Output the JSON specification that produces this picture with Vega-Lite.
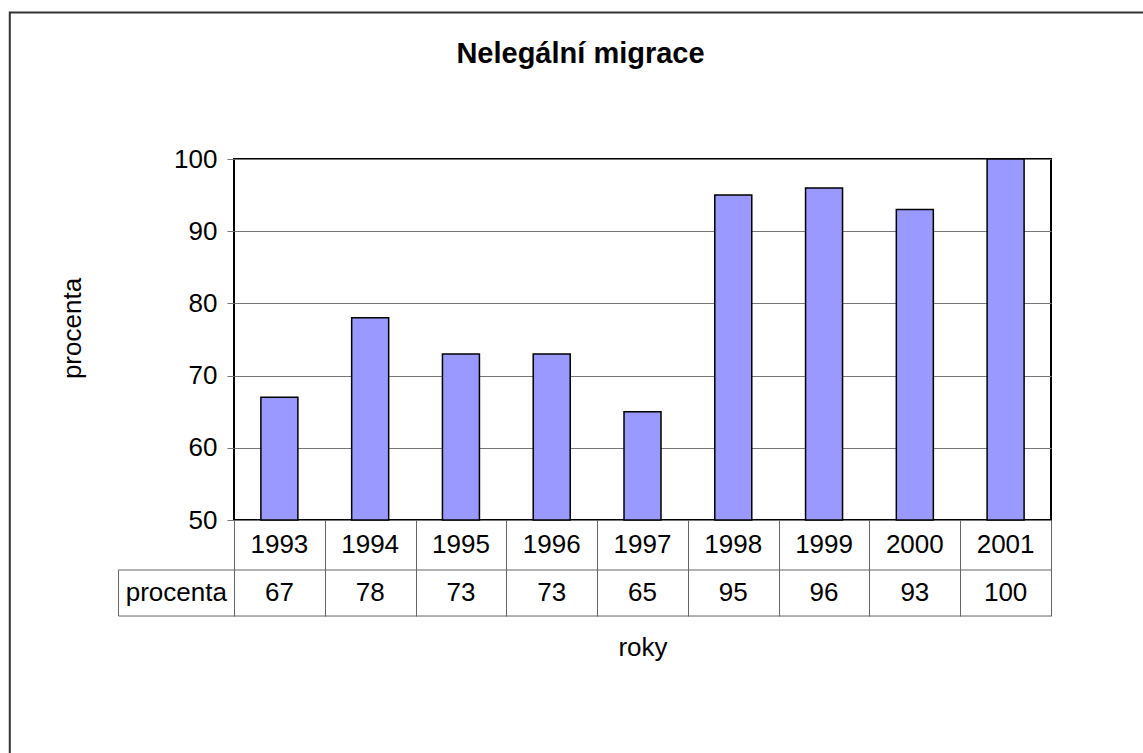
{
  "$schema": "https://vega.github.io/schema/vega-lite/v6.json",
  "width": 817,
  "height": 361,
  "autosize": {"type": "none"},
  "padding": {"left": 234, "top": 159, "right": 92, "bottom": 233},
  "background": "white",
  "config": {
    "font": "Liberation Sans",
    "view": {"stroke": "black", "strokeWidth": 2}
  },
  "title": {
    "text": "Nelegální migrace",
    "fontSize": 29,
    "fontWeight": "bold",
    "color": "black",
    "anchor": "middle",
    "frame": "group",
    "baseline": "alphabetic",
    "offset": -80,
    "dx": -62
  },
  "data": {
    "values": [
      {"year": 1993, "value": 67},
      {"year": 1994, "value": 78},
      {"year": 1995, "value": 73},
      {"year": 1996, "value": 73},
      {"year": 1997, "value": 65},
      {"year": 1998, "value": 95},
      {"year": 1999, "value": 96},
      {"year": 2000, "value": 93},
      {"year": 2001, "value": 100}
    ]
  },
  "layer": [
    {
      "mark": {"type": "bar", "width": 37, "fill": "#9999FF", "stroke": "black", "strokeWidth": 1.5},
      "encoding": {
        "x": {
          "field": "year",
          "type": "quantitative",
          "scale": {"domain": [1992.5, 2001.5], "nice": false, "zero": false, "padding": 0},
          "axis": {
            "values": [1992.5, 1993.5, 1994.5, 1995.5, 1996.5, 1997.5, 1998.5, 1999.5, 2000.5, 2001.5],
            "labels": false,
            "ticks": true,
            "tickSize": 96,
            "tickColor": "#666666",
            "tickWidth": 1,
            "domain": false,
            "grid": false,
            "title": "roky",
            "titleFontSize": 26,
            "titleFontWeight": "normal",
            "titleColor": "black",
            "titlePadding": 18
          }
        },
        "y": {
          "field": "value",
          "type": "quantitative",
          "scale": {"domain": [50, 100], "nice": false, "zero": false, "padding": 0},
          "axis": {
            "values": [50, 60, 70, 80, 90, 100],
            "grid": true,
            "gridColor": "#777777",
            "gridWidth": 1,
            "gridOpacity": 1,
            "tickSize": 7,
            "tickColor": "#777777",
            "labelFontSize": 26,
            "labelColor": "black",
            "labelPadding": 10,
            "domain": false,
            "title": "procenta",
            "titleFontSize": 26,
            "titleFontWeight": "normal",
            "titleColor": "black",
            "titleAngle": -90,
            "titleAlign": "center",
            "titleBaseline": "alphabetic",
            "titleX": -154,
            "titleY": 169
          }
        },
        "y2": {"datum": 50}
      }
    },
    {
      "data": {"values": [{}]},
      "mark": {"type": "rect", "fillOpacity": 0, "stroke": "#333333", "strokeWidth": 2},
      "encoding": {
        "x": {"datum": 1990.03, "type": "quantitative"},
        "x2": {"datum": 2006},
        "y": {"datum": 120.29, "type": "quantitative"},
        "y2": {"datum": 0}
      }
    },
    {
      "mark": {"type": "text", "fontSize": 26, "baseline": "middle", "align": "center", "color": "black"},
      "encoding": {
        "x": {"field": "year", "type": "quantitative"},
        "y": {"datum": 46.54, "type": "quantitative"},
        "text": {"field": "year", "type": "nominal"}
      }
    },
    {
      "mark": {"type": "text", "fontSize": 26, "baseline": "middle", "align": "center", "color": "black"},
      "encoding": {
        "x": {"field": "year", "type": "quantitative"},
        "y": {"datum": 39.89, "type": "quantitative"},
        "text": {"field": "value", "type": "quantitative"}
      }
    },
    {
      "data": {"values": [{}]},
      "mark": {"type": "rule", "color": "#666666", "strokeWidth": 1},
      "encoding": {
        "x": {"datum": 1991.228, "type": "quantitative"},
        "x2": {"datum": 2001.5},
        "y": {"datum": 43.075, "type": "quantitative"}
      }
    },
    {
      "data": {"values": [{}]},
      "mark": {"type": "rule", "color": "#666666", "strokeWidth": 1},
      "encoding": {
        "x": {"datum": 1991.228, "type": "quantitative"},
        "x2": {"datum": 2001.5},
        "y": {"datum": 36.7, "type": "quantitative"}
      }
    },
    {
      "data": {"values": [{}]},
      "mark": {"type": "rule", "color": "#666666", "strokeWidth": 1},
      "encoding": {
        "x": {"datum": 1991.228, "type": "quantitative"},
        "y": {"datum": 43.075, "type": "quantitative"},
        "y2": {"datum": 36.7}
      }
    },
    {
      "data": {"values": [{"label": "procenta"}]},
      "mark": {"type": "text", "fontSize": 26, "baseline": "middle", "align": "center", "color": "black"},
      "encoding": {
        "x": {"datum": 1991.864, "type": "quantitative"},
        "y": {"datum": 39.89, "type": "quantitative"},
        "text": {"field": "label", "type": "nominal"}
      }
    }
  ]
}
